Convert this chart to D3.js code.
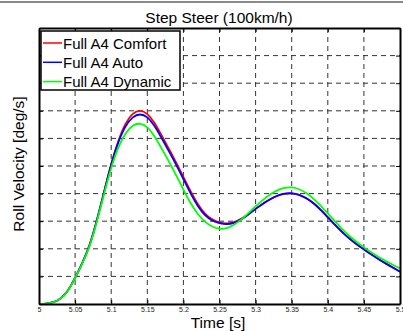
<!DOCTYPE html>
<html>
<head>
<meta charset="utf-8">
<script src="https://cdn.jsdelivr.net/npm/d3@7"></script>
<style>
  body { margin: 0; background: #fff; }
  svg { display: block; font-family: "Liberation Sans", Arial, sans-serif; }
</style>
</head>
<body>
<div id="chart"></div>
<script>
// time samples [s]
const times = [5.00, 5.01, 5.02, 5.03, 5.04, 5.05, 5.06, 5.07, 5.08, 5.09,
  5.10, 5.11, 5.12, 5.13, 5.14, 5.15, 5.16, 5.17, 5.18, 5.19,
  5.20, 5.21, 5.22, 5.23, 5.24, 5.25, 5.26, 5.27, 5.28, 5.29,
  5.30, 5.31, 5.32, 5.33, 5.34, 5.35, 5.36, 5.37, 5.38, 5.39,
  5.40, 5.41, 5.42, 5.43, 5.44, 5.45, 5.46, 5.47, 5.48, 5.49, 5.50];

// roll velocity (no y labels in the original)
const comfort = [0, 0.01, 0.05, 0.18, 0.46, 0.93, 1.48, 2.08, 3.0, 4.05,
  5.1, 5.95, 6.58, 6.93, 7.03, 6.92, 6.58, 6.1, 5.62, 5.13,
  4.61, 4.08, 3.6, 3.25, 3.05, 2.95, 2.91, 2.95, 3.08, 3.25,
  3.45, 3.63, 3.79, 3.92, 4.0, 4.02, 3.97, 3.85, 3.67, 3.43,
  3.15, 2.87, 2.6, 2.37, 2.16, 1.98, 1.8, 1.63, 1.47, 1.32, 1.17];

const auto = [0, 0.01, 0.05, 0.18, 0.46, 0.93, 1.48, 2.08, 3.0, 4.05,
  5.1, 5.9, 6.48, 6.8, 6.9, 6.8, 6.47, 6.0, 5.53, 5.05,
  4.53, 4.0, 3.53, 3.2, 3.01, 2.92, 2.88, 2.92, 3.06, 3.24,
  3.45, 3.64, 3.8, 3.93, 4.01, 4.02, 3.97, 3.84, 3.66, 3.42,
  3.14, 2.86, 2.6, 2.37, 2.16, 1.98, 1.8, 1.63, 1.47, 1.32, 1.17];

const dynamic = [0, 0.01, 0.05, 0.18, 0.45, 0.92, 1.46, 2.05, 2.95, 3.98,
  4.95, 5.72, 6.22, 6.49, 6.56, 6.44, 6.09, 5.63, 5.16, 4.67,
  4.14, 3.64, 3.24, 2.97, 2.79, 2.71, 2.73, 2.86, 3.05, 3.29,
  3.54, 3.77, 3.97, 4.13, 4.22, 4.24, 4.17, 4.03, 3.83, 3.57,
  3.28, 2.99, 2.71, 2.46, 2.24, 2.05, 1.87, 1.71, 1.56, 1.42, 1.29];

const seriesNames = ['Full A4 Comfort', 'Full A4 Auto', 'Full A4 Dynamic'];
const seriesColors = ['#ff0000', '#0000ff', '#00ff00'];
const xTicks = [5, 5.05, 5.1, 5.15, 5.2, 5.25, 5.3, 5.35, 5.4, 5.45, 5.5];
const yTicks = [0, 1, 2, 3, 4, 5, 6, 7, 8, 9, 10];

const W = 403, H = 331;
const margin = { top: 28, right: 3, bottom: 27, left: 39 };
const width = W - margin.left - margin.right;
const height = H - margin.top - margin.bottom;

const root = d3.select('#chart').append('svg')
  .attr('width', W)
  .attr('height', H);

// grey strip at the very top of the figure
root.append('line')
  .attr('x1', 0).attr('x2', W)
  .attr('y1', 2).attr('y2', 2)
  .attr('stroke', '#8a8a8a')
  .attr('stroke-width', 2);

const svg = root.append('g')
  .attr('transform', `translate(${margin.left},${margin.top})`);

const x = d3.scaleLinear().domain([5, 5.5]).range([0, width]);
const y = d3.scaleLinear().domain([0, 10]).range([height, 0]);

// dashed grid
svg.append('g')
  .selectAll('line')
  .data(xTicks.slice(1, -1))
  .enter().append('line')
  .attr('x1', d => x(d)).attr('x2', d => x(d))
  .attr('y1', 0).attr('y2', height)
  .attr('stroke', '#333')
  .attr('stroke-dasharray', '5,4');

svg.append('g')
  .selectAll('line')
  .data(yTicks.slice(1, -1))
  .enter().append('line')
  .attr('x1', 0).attr('x2', width)
  .attr('y1', d => y(d)).attr('y2', d => y(d))
  .attr('stroke', '#333')
  .attr('stroke-dasharray', '5,4');

// curves
const line = d3.line()
  .x((d, i) => x(times[i]))
  .y(d => y(d))
  .curve(d3.curveBasis);

[comfort, auto, dynamic].forEach((vals, k) => {
  svg.append('path')
    .datum(vals)
    .attr('fill', 'none')
    .attr('stroke', seriesColors[k])
    .attr('stroke-width', 1.8)
    .attr('d', line);
});

// X axis with inward ticks
const xAxis = svg.append('g')
  .attr('transform', `translate(0,${height})`)
  .call(d3.axisBottom(x)
    .tickValues(xTicks)
    .tickSizeInner(-4)
    .tickSizeOuter(0)
    .tickPadding(3)
    .tickFormat(d3.format('')));
xAxis.select('.domain').attr('stroke', '#000').attr('stroke-width', 2);
xAxis.selectAll('text')
  .attr('font-size', 7)
  .attr('font-family', '"Liberation Sans", Arial, sans-serif')
  .attr('fill', '#222');

// top axis ticks
svg.append('g')
  .call(d3.axisTop(x).tickValues(xTicks).tickSizeInner(-4).tickSizeOuter(0).tickFormat(''))
  .select('.domain').attr('stroke-width', 2);

// left and right axes, no labels
svg.append('g')
  .call(d3.axisLeft(y).tickValues(yTicks).tickSizeInner(-4).tickSizeOuter(0).tickFormat(''))
  .select('.domain').attr('stroke-width', 2);

svg.append('g')
  .attr('transform', `translate(${width},0)`)
  .call(d3.axisRight(y).tickValues(yTicks).tickSizeInner(-4).tickSizeOuter(0).tickFormat(''))
  .select('.domain').attr('stroke-width', 2);

// title and axis labels
root.append('text')
  .attr('x', 219).attr('y', 23)
  .attr('text-anchor', 'middle')
  .attr('font-size', 15.5)
  .text('Step Steer (100km/h)');

root.append('text')
  .attr('x', 218).attr('y', 328)
  .attr('text-anchor', 'middle')
  .attr('font-size', 15.5)
  .text('Time [s]');

root.append('text')
  .attr('transform', 'translate(24,164) rotate(-90)')
  .attr('text-anchor', 'middle')
  .attr('font-size', 15.5)
  .text('Roll Velocity [deg/s]');

// legend
const legend = root.append('g').attr('transform', 'translate(41,31)');
legend.append('rect')
  .attr('width', 139).attr('height', 59)
  .attr('fill', '#fff')
  .attr('stroke', '#000')
  .attr('stroke-width', 1.5);

seriesNames.forEach((name, i) => {
  const yy = 12 + i * 19.3;
  legend.append('line')
    .attr('x1', 2).attr('x2', 21)
    .attr('y1', yy).attr('y2', yy)
    .attr('stroke', seriesColors[i])
    .attr('stroke-width', 1.5);
  legend.append('text')
    .attr('x', 22).attr('y', yy + 5.5)
    .attr('font-size', 15)
    .text(name);
});
</script>
</body>
</html>
